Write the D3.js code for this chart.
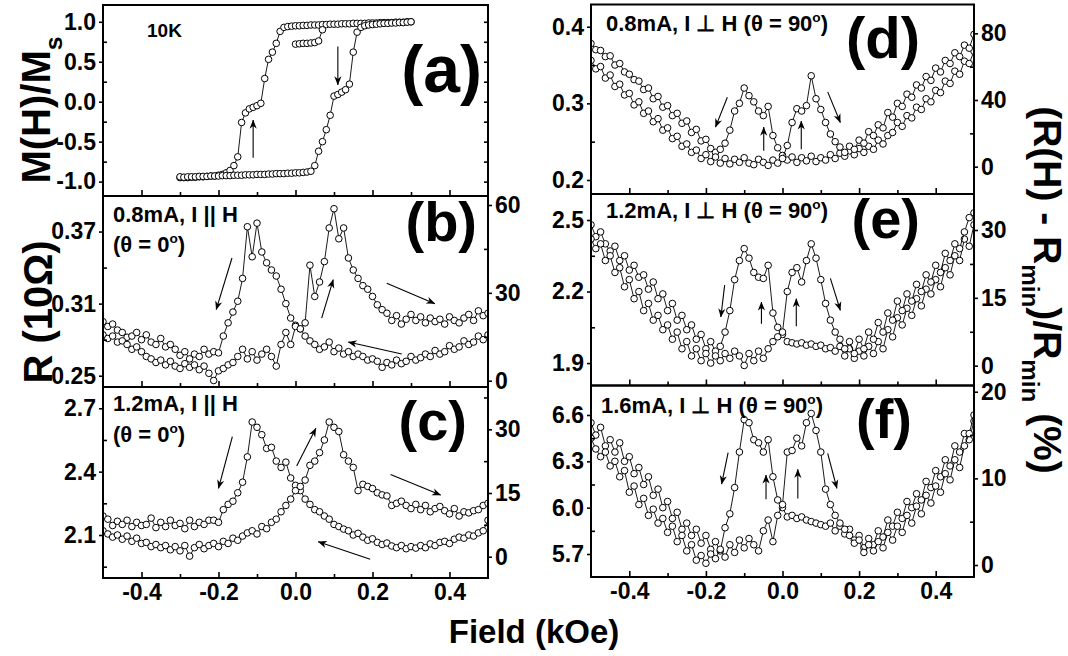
<!DOCTYPE html>
<html><head><meta charset="utf-8">
<script src="https://cdn.jsdelivr.net/npm/d3@7/dist/d3.min.js"></script>
<style>
html,body{margin:0;padding:0;background:#fff;}
svg{display:block;}
</style></head>
<body>
<svg id="chart" width="1068" height="656" xmlns="http://www.w3.org/2000/svg"></svg>
<script>
// ---------------- DATA ----------------
// field grid (kOe) for the resistance panels
const field = [-0.5,-0.4875,-0.475,-0.4625,-0.45,-0.4375,-0.425,-0.4125,-0.4,-0.3875,-0.375,-0.3625,-0.35,-0.3375,-0.325,-0.3125,-0.3,-0.2875,-0.275,-0.2625,-0.25,-0.2375,-0.225,-0.2125,-0.2,-0.1875,-0.175,-0.1625,-0.15,-0.1375,-0.125,-0.1125,-0.1,-0.0875,-0.075,-0.0625,-0.05,-0.0375,-0.025,-0.0125,0,0.0125,0.025,0.0375,0.05,0.0625,0.075,0.0875,0.1,0.1125,0.125,0.1375,0.15,0.1625,0.175,0.1875,0.2,0.2125,0.225,0.2375,0.25,0.2625,0.275,0.2875,0.3,0.3125,0.325,0.3375,0.35,0.3625,0.375,0.3875,0.4,0.4125,0.425,0.4375,0.45,0.4625,0.475,0.4875,0.5];

// panel (a): magnetization loop
const fieldA = [-0.30,-0.29,-0.28,-0.27,-0.26,-0.25,-0.24,-0.23,-0.22,-0.21,-0.20,-0.19,-0.18,-0.17,-0.16,-0.15,-0.14,-0.13,-0.12,-0.11,-0.10,-0.09,-0.08,-0.07,-0.06,-0.05,-0.04,-0.03,-0.02,-0.01,0.00,0.01,0.02,0.03,0.04,0.05,0.06,0.07,0.08,0.09,0.10,0.11,0.12,0.13,0.14,0.15,0.16,0.17,0.18,0.19,0.20,0.21,0.22,0.23,0.24,0.25,0.26,0.27,0.28,0.29,0.30];
const mLeft = [-0.95,-0.95,-0.95,-0.945,-0.945,-0.94,-0.94,-0.935,-0.93,-0.93,
 -0.92,-0.91,-0.89,-0.86,-0.80,-0.69,-0.26,-0.14,-0.09,-0.07,
 -0.05,-0.02,0.29,0.53,0.62,0.73,0.88,0.93,0.94,0.945,
 0.95,0.95,0.955,0.955,0.96,0.96,0.96,0.965,0.965,0.97,
 0.97,0.97,0.975,0.975,0.975,0.98,0.98,0.98,0.98,0.985,
 0.985,0.985,0.99,0.99,0.99,0.99,0.995,0.995,0.995,1.0,1.0];
const mRight = [-0.94,-0.945,-0.94,-0.94,-0.94,-0.935,-0.935,-0.935,-0.93,-0.93,
 -0.93,-0.925,-0.925,-0.925,-0.92,-0.92,-0.92,-0.915,-0.915,-0.915,
 -0.91,-0.91,-0.91,-0.905,-0.905,-0.90,-0.90,-0.90,-0.895,-0.895,
 -0.89,-0.89,-0.885,-0.88,-0.87,-0.80,-0.62,-0.50,-0.35,-0.17,
 0.07,0.09,0.12,0.15,0.22,0.62,0.87,0.93,0.95,0.96,
 0.965,0.97,0.975,0.98,0.98,0.985,0.985,0.99,0.99,0.995,1.0];
const fieldInit = [0.00,0.01,0.02,0.03,0.04,0.05,0.06,0.07];
const mInit = [0.72,0.725,0.73,0.73,0.735,0.74,0.76,0.90];

// panel (b): 0.8 mA, I || H
const bDown = [0.295,0.291,0.293,0.288,0.286,0.282,0.283,0.286,0.280,0.284,
 0.278,0.276,0.281,0.274,0.276,0.272,0.267,0.270,0.264,0.268,
 0.266,0.272,0.268,0.270,0.269,0.283,0.294,0.303,0.312,0.331,
 0.374,0.349,0.377,0.353,0.344,0.338,0.333,0.322,0.310,0.298,
 0.292,0.289,0.283,0.279,0.276,0.272,0.274,0.278,0.270,0.273,
 0.268,0.270,0.266,0.268,0.266,0.263,0.264,0.262,0.257,0.261,
 0.259,0.263,0.260,0.262,0.266,0.263,0.265,0.268,0.266,0.271,
 0.268,0.270,0.275,0.272,0.274,0.279,0.276,0.278,0.283,0.280,0.284];
const bUp = [0.284,0.281,0.283,0.278,0.279,0.276,0.272,0.274,0.270,0.266,
 0.264,0.261,0.263,0.259,0.262,0.258,0.256,0.260,0.257,0.259,
 0.255,0.258,0.252,0.246,0.254,0.256,0.259,0.261,0.266,0.272,
 0.264,0.270,0.263,0.268,0.272,0.266,0.258,0.276,0.286,0.276,
 0.291,0.289,0.294,0.342,0.316,0.328,0.345,0.373,0.389,0.364,
 0.373,0.348,0.338,0.331,0.325,0.322,0.316,0.309,0.305,0.302,
 0.296,0.300,0.293,0.297,0.301,0.296,0.299,0.294,0.298,0.295,
 0.297,0.293,0.299,0.296,0.294,0.298,0.301,0.296,0.304,0.300,0.302];

// panel (c): 1.2 mA, I || H
const cDown = [2.19,2.175,2.145,2.165,2.15,2.17,2.14,2.16,2.145,2.15,
 2.18,2.135,2.16,2.14,2.17,2.145,2.155,2.13,2.17,2.14,
 2.16,2.15,2.17,2.17,2.16,2.22,2.245,2.26,2.30,2.35,
 2.47,2.635,2.61,2.575,2.51,2.515,2.45,2.42,2.445,2.37,
 2.335,2.31,2.27,2.245,2.22,2.21,2.19,2.175,2.15,2.14,
 2.128,2.12,2.10,2.108,2.09,2.075,2.082,2.065,2.055,2.062,
 2.048,2.04,2.05,2.035,2.045,2.038,2.05,2.04,2.058,2.05,
 2.065,2.07,2.06,2.08,2.09,2.085,2.10,2.095,2.11,2.12,2.17];
const cUp = [2.12,2.105,2.09,2.10,2.08,2.095,2.07,2.085,2.06,2.065,
 2.045,2.055,2.04,2.05,2.03,2.045,2.025,2.05,2.00,2.04,
 2.055,2.035,2.05,2.06,2.045,2.07,2.06,2.085,2.075,2.095,
 2.11,2.12,2.105,2.14,2.13,2.16,2.175,2.21,2.24,2.27,
 2.31,2.33,2.36,2.43,2.45,2.49,2.55,2.635,2.61,2.59,
 2.48,2.45,2.42,2.31,2.34,2.33,2.32,2.30,2.29,2.285,
 2.24,2.25,2.26,2.24,2.225,2.245,2.22,2.24,2.21,2.225,
 2.235,2.215,2.20,2.225,2.19,2.21,2.205,2.215,2.22,2.24,2.25];

// panel (d): 0.8 mA, I ⊥ H
const dDown = [0.378,0.370,0.369,0.361,0.362,0.350,0.352,0.341,0.338,0.331,
 0.329,0.318,0.320,0.306,0.309,0.295,0.297,0.284,0.287,0.274,
 0.277,0.262,0.266,0.251,0.253,0.241,0.236,0.240,0.248,0.265,
 0.290,0.300,0.320,0.310,0.302,0.290,0.284,0.296,0.258,0.242,
 0.232,0.226,0.230,0.223,0.229,0.225,0.231,0.224,0.229,0.226,
 0.233,0.228,0.235,0.231,0.238,0.233,0.241,0.236,0.244,0.240,
 0.252,0.247,0.258,0.262,0.275,0.270,0.284,0.281,0.295,0.292,
 0.306,0.302,0.317,0.314,0.329,0.326,0.342,0.338,0.355,0.352,0.368];
const dUp = [0.356,0.345,0.348,0.333,0.337,0.322,0.325,0.311,0.313,0.298,
 0.302,0.287,0.290,0.276,0.280,0.265,0.268,0.254,0.257,0.244,
 0.247,0.236,0.239,0.228,0.233,0.224,0.230,0.222,0.228,0.221,
 0.227,0.223,0.229,0.222,0.220,0.227,0.223,0.219,0.226,0.222,
 0.228,0.245,0.275,0.293,0.290,0.297,0.336,0.306,0.292,0.275,
 0.260,0.250,0.243,0.236,0.244,0.240,0.252,0.248,0.263,0.258,
 0.272,0.268,0.288,0.282,0.300,0.296,0.312,0.308,0.324,0.320,
 0.335,0.330,0.346,0.341,0.356,0.352,0.366,0.361,0.376,0.372,0.390];

// panel (e): 1.2 mA, I ⊥ H
const eDown = [2.48,2.43,2.45,2.40,2.37,2.39,2.33,2.35,2.29,2.31,
 2.26,2.27,2.21,2.24,2.17,2.19,2.12,2.15,2.08,2.10,
 2.04,2.06,2.00,2.02,1.96,1.99,1.95,1.97,2.03,2.12,
 2.25,2.33,2.38,2.34,2.28,2.26,2.255,2.31,2.11,2.05,
 2.02,1.99,1.985,1.98,1.985,1.975,1.98,1.97,1.975,1.96,
 1.965,1.95,1.97,1.93,1.96,1.92,1.95,1.93,1.97,1.94,
 1.99,1.96,2.04,2.01,2.09,2.06,2.13,2.10,2.17,2.14,
 2.21,2.19,2.25,2.22,2.30,2.27,2.35,2.33,2.42,2.39,2.48];
const eUp = [2.42,2.38,2.40,2.33,2.35,2.28,2.30,2.22,2.25,2.17,
 2.20,2.12,2.15,2.08,2.10,2.04,2.06,2.00,2.03,1.96,
 1.99,1.93,1.96,1.91,1.94,1.90,1.93,1.91,1.94,1.92,
 1.95,1.93,1.89,1.94,1.91,1.95,1.92,1.96,1.99,2.01,
 2.03,2.20,2.28,2.30,2.24,2.33,2.40,2.34,2.25,2.15,
 2.08,2.03,2.00,1.96,1.99,1.94,2.00,1.96,2.03,2.00,
 2.07,2.03,2.11,2.08,2.16,2.12,2.19,2.16,2.23,2.20,
 2.27,2.24,2.31,2.28,2.36,2.33,2.40,2.38,2.45,2.51,2.53];

// panel (f): 1.6 mA, I ⊥ H
const fDown = [6.55,6.47,6.52,6.40,6.44,6.36,6.42,6.30,6.33,6.22,
 6.26,6.15,6.20,6.08,6.12,6.00,6.04,5.93,5.97,5.86,
 5.90,5.82,5.86,5.77,5.82,5.73,5.78,5.72,5.87,5.96,
 6.13,6.36,6.57,6.55,6.44,6.42,6.36,6.44,6.20,6.05,
 6.00,5.94,5.95,5.93,5.94,5.92,5.91,5.90,5.89,5.88,
 5.90,5.85,5.88,5.83,5.86,5.79,5.82,5.74,5.80,5.76,
 5.85,5.81,5.92,5.88,5.97,5.93,6.04,6.00,6.09,6.05,
 6.17,6.13,6.24,6.20,6.31,6.27,6.40,6.36,6.48,6.44,6.56];
const fUp = [6.45,6.38,6.33,6.36,6.27,6.30,6.20,6.24,6.10,6.14,
 6.02,6.06,5.95,5.99,5.90,5.93,5.84,5.88,5.78,5.82,
 5.72,5.76,5.66,5.69,5.64,5.70,5.67,5.73,5.68,5.76,
 5.71,5.79,5.74,5.80,5.76,5.72,5.85,5.92,5.78,5.95,
 6.02,6.36,6.37,6.45,6.40,6.55,6.61,6.50,6.36,6.12,
 6.02,5.95,5.90,5.86,5.82,5.77,5.79,5.71,5.76,5.72,
 5.78,5.74,5.84,5.79,5.88,5.84,5.95,5.90,6.01,5.96,
 6.08,6.03,6.14,6.10,6.22,6.18,6.31,6.26,6.40,6.48,6.60];

// arrows [x1, y1, x2, y2] in data units
const arrowsA = [[-0.11,-0.70,-0.11,-0.23],[0.11,0.69,0.11,0.21]];
const arrowsB = [[-0.165,0.348,-0.206,0.305],[0.068,0.298,0.098,0.330],[0.237,0.327,0.362,0.310],[0.276,0.268,0.137,0.278]];
const arrowsC = [[-0.164,2.566,-0.2,2.321],[0.003,2.427,0.053,2.605],[0.247,2.387,0.377,2.289],[0.194,1.985,0.059,2.068]];
const arrowsD = [[-0.144,0.308,-0.175,0.269],[-0.049,0.238,-0.049,0.269],[0.049,0.240,0.049,0.277],[0.118,0.315,0.151,0.275]];
const arrowsE = [[-0.151,2.227,-0.161,2.093],[-0.055,2.065,-0.055,2.156],[0.036,2.054,0.036,2.170],[0.125,2.255,0.151,2.121]];
const arrowsF = [[-0.142,6.356,-0.159,6.153],[-0.043,6.054,-0.043,6.211],[0.040,6.060,0.040,6.248],[0.118,6.352,0.142,6.125]];

// tick values
const xTicks = [-0.4,-0.2,0,0.2,0.4];
const xMinor = [-0.3,-0.1,0.1,0.3];
const aTicks = [-1,-0.5,0,0.5,1], aMinor = [-0.75,-0.25,0.25,0.75];
const bTicks = [0.25,0.31,0.37], bMinor = [0.28,0.34];
const bRTicks = [0,30,60], bRMinor = [15,45];
const cTicks = [2.1,2.4,2.7], cMinor = [1.95,2.25,2.55];
const cRTicks = [0,15,30], cRMinor = [7.5,22.5,37.5];
const dTicks = [0.2,0.3,0.4], dMinor = [0.25,0.35];
const dRTicks = [0,40,80], dRMinor = [20,60];
const eTicks = [1.9,2.2,2.5], eMinor = [2.05,2.35];
const eRTicks = [0,15,30], eRMinor = [7.5,22.5];
const fTicks = [5.7,6.0,6.3,6.6], fMinor = [5.85,6.15,6.45];
const fRTicks = [0,10,20], fRMinor = [5,15];

// ---------------- DRAWING ----------------
const FONT = '"Liberation Sans", Arial, Helvetica, sans-serif';
const svg = d3.select('#chart');
svg.append('rect').attr('width',1068).attr('height',656).attr('fill','#fff');
const defs = svg.append('defs');
defs.append('marker').attr('id','ah').attr('viewBox','0 0 10 10')
  .attr('refX',9.5).attr('refY',5).attr('markerWidth',9).attr('markerHeight',9)
  .attr('markerUnits','userSpaceOnUse').attr('orient','auto')
  .append('path').attr('d','M0,1 L10,5 L0,9 L3,5 Z').attr('fill','#000');

const TICK = 23;
const fmt = n => v => v.toFixed(n);
const fmtInt = v => String(v);

const panels = [
  {id:'a', x0:103, x1:488, y0:5, y1:196, yDom:[-1.18,1.21],
   series:[[fieldA,mLeft],[fieldA,mRight],[fieldInit,mInit]],
   lT:aTicks, lM:aMinor, lF:fmt(1), mirrorRight:true, arrows:arrowsA},
  {id:'b', x0:103, x1:488, y0:196, y1:387, yDom:[0.2406,0.3996], rDom:[-2.15,63.07],
   series:[[field,bDown],[field,bUp]], lT:bTicks, lM:bMinor, lF:fmt(2), rT:bRTicks, rM:bRMinor, arrows:arrowsB},
  {id:'c', x0:103, x1:488, y0:387, y1:578, yDom:[1.8964,2.8008], rDom:[-5.01,39.96],
   series:[[field,cDown],[field,cUp]], lT:cTicks, lM:cMinor, lF:fmt(1), rT:cRTicks, rM:cRMinor, arrows:arrowsC, xLabels:true},
  {id:'d', x0:591, x1:974, y0:4.5, y1:194, yDom:[0.1817,0.429], rDom:[-16.4,97.3],
   series:[[field,dDown],[field,dUp]], lT:dTicks, lM:dMinor, lF:fmt(1), rT:dRTicks, rM:dRMinor, arrows:arrowsD},
  {id:'e', x0:591, x1:974, y0:194, y1:385.5, yDom:[1.806,2.609], rDom:[-4.38,37.96],
   series:[[field,eDown],[field,eUp]], lT:eTicks, lM:eMinor, lF:fmt(1), rT:eRTicks, rM:eRMinor, arrows:arrowsE},
  {id:'f', x0:591, x1:974, y0:385.5, y1:577, yDom:[5.551,6.791], rDom:[-1.385,20.72],
   series:[[field,fDown],[field,fUp]], lT:fTicks, lM:fMinor, lF:fmt(1), rT:fRTicks, rM:fRMinor, arrows:arrowsF, xLabels:true}
];

function styleAxis(g){
  g.select('.domain').remove();
  g.attr('font-family',FONT).attr('font-size',TICK).attr('font-weight','bold');
  g.selectAll('line').attr('stroke','#000').attr('stroke-width',1.6);
  g.selectAll('text').attr('fill','#000');
}

panels.forEach(p => {
  const x = d3.scaleLinear().domain([-0.5,0.5]).range([p.x0,p.x1]);
  const y = d3.scaleLinear().domain(p.yDom).range([p.y1,p.y0]);
  const g = svg.append('g');
  const cid = 'clip-'+p.id;
  defs.append('clipPath').attr('id',cid).append('rect')
    .attr('x',p.x0).attr('y',p.y0).attr('width',p.x1-p.x0).attr('height',p.y1-p.y0);
  const plot = g.append('g').attr('clip-path',`url(#${cid})`);
  const line = d3.line().x(d=>x(d[0])).y(d=>y(d[1]));
  p.series.forEach(([fx,vals]) => {
    const pts = d3.zip(fx, vals);
    plot.append('path').attr('d',line(pts)).attr('fill','none').attr('stroke','#000').attr('stroke-width',0.9);
    plot.selectAll(null).data(pts).join('circle')
      .attr('cx',d=>x(d[0])).attr('cy',d=>y(d[1])).attr('r',3.3)
      .attr('fill','#fff').attr('stroke','#000').attr('stroke-width',1);
  });
  p.arrows.forEach(a => {
    g.append('line').attr('x1',x(a[0])).attr('y1',y(a[1])).attr('x2',x(a[2])).attr('y2',y(a[3]))
      .attr('stroke','#000').attr('stroke-width',1.1).attr('marker-end','url(#ah)');
  });
  g.append('g').attr('transform',`translate(0,${p.y1})`)
    .call(d3.axisBottom(x).tickValues(xTicks).tickSize(-6).tickPadding(6).tickFormat(p.xLabels ? fmt(1) : ''))
    .call(styleAxis);
  g.append('g').attr('transform',`translate(0,${p.y1})`)
    .call(d3.axisBottom(x).tickValues(xMinor).tickSize(-4).tickFormat(''))
    .call(styleAxis);
  g.append('g').attr('transform',`translate(${p.x0},0)`)
    .call(d3.axisLeft(y).tickValues(p.lT).tickSize(4).tickPadding(3).tickFormat(p.lF))
    .call(styleAxis);
  g.append('g').attr('transform',`translate(${p.x0},0)`)
    .call(d3.axisLeft(y).tickValues(p.lM).tickSize(-4).tickFormat(''))
    .call(styleAxis);
  if (p.rDom) {
    const yr = d3.scaleLinear().domain(p.rDom).range([p.y1,p.y0]);
    g.append('g').attr('transform',`translate(${p.x1},0)`)
      .call(d3.axisRight(yr).tickValues(p.rT).tickSize(4).tickPadding(3).tickFormat(fmtInt))
      .call(styleAxis);
    g.append('g').attr('transform',`translate(${p.x1},0)`)
      .call(d3.axisRight(yr).tickValues(p.rM).tickSize(-4).tickFormat(''))
      .call(styleAxis);
  } else if (p.mirrorRight) {
    g.append('g').attr('transform',`translate(${p.x1},0)`)
      .call(d3.axisRight(y).tickValues(p.lT.concat(p.lM)).tickSize(-4).tickFormat(''))
      .call(styleAxis);
  }
  g.append('rect').attr('x',p.x0).attr('y',p.y0).attr('width',p.x1-p.x0).attr('height',p.y1-p.y0)
    .attr('fill','none').attr('stroke','#000').attr('stroke-width',2);
});

function rich(x, y, segs, size, anchor, rotate) {
  const t = svg.append('text').attr('font-family',FONT).attr('font-weight','bold')
    .attr('font-size',size).attr('text-anchor',anchor||'start').attr('fill','#000');
  if (rotate) t.attr('transform',`translate(${x},${y}) rotate(${rotate})`);
  else t.attr('x',x).attr('y',y);
  let shift = 0;
  segs.forEach(s => {
    const ts = t.append('tspan').text(s.t);
    const target = s.sup ? -0.42*size : (s.sub ? 0.3*size : 0);
    if (s.sup || s.sub) ts.attr('font-size', size*0.62);
    if (target !== shift) ts.attr('dy', target - shift);
    shift = target;
  });
  return t;
}

// panel labels
rich(482, 92, [{t:'(a)'}], 66, 'end');
rich(477, 241, [{t:'(b)'}], 56, 'end');
rich(467, 440, [{t:'(c)'}], 56, 'end');
rich(920, 58, [{t:'(d)'}], 58, 'end');
rich(920, 238, [{t:'(e)'}], 56, 'end');
rich(912, 438, [{t:'(f)'}], 56, 'end');

// annotations
rich(147, 37, [{t:'10K'}], 19);
rich(113, 222, [{t:'0.8mA, I || H'}], 22);
rich(113, 252, [{t:'(θ = 0'},{t:'o',sup:true},{t:')'}], 22);
rich(113, 411, [{t:'1.2mA, I || H'}], 22);
rich(113, 442, [{t:'(θ = 0'},{t:'o',sup:true},{t:')'}], 22);
rich(606, 31, [{t:'0.8mA, I ⊥ H (θ = 90'},{t:'o',sup:true},{t:')'}], 22);
rich(606, 218, [{t:'1.2mA, I ⊥ H (θ = 90'},{t:'o',sup:true},{t:')'}], 22);
rich(601, 413, [{t:'1.6mA, I ⊥ H (θ = 90'},{t:'o',sup:true},{t:')'}], 22);

// axis titles
rich(50, 110, [{t:'M(H)/M'},{t:'s',sub:true}], 40, 'middle', -90);
rich(52, 312, [{t:'R (10Ω)'}], 40, 'middle', -90);
rich(1034, 290, [{t:'(R(H) - R'},{t:'min',sub:true},{t:')/R'},{t:'min',sub:true},{t:' (%)'}], 39, 'middle', 90);
rich(534, 643, [{t:'Field (kOe)'}], 33, 'middle');
</script>
</body></html>
